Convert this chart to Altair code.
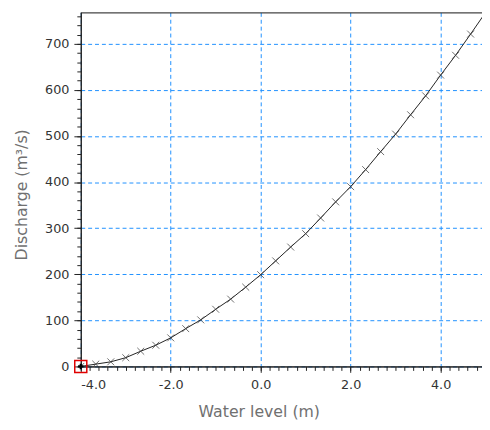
import altair as alt
import pandas as pd

# Water level (m) and discharge (m3/s)
levels = [-4.0, -3.667, -3.333, -3.0, -2.667, -2.333, -2.0, -1.667, -1.333, -1.0,
          -0.667, -0.333, 0.0, 0.333, 0.667, 1.0, 1.333, 1.667, 2.0, 2.333,
          2.667, 3.0, 3.333, 3.667, 4.0, 4.333, 4.667, 5.0]
discharge = [0, 5, 10, 19, 33, 46, 62, 82, 101, 124,
             146, 172, 199, 229, 259, 288, 322, 357, 390, 427,
             466, 504, 546, 587, 632, 675, 721, 768]

x_major = [-4.0, -2.0, 0.0, 2.0, 4.0]
y_major = [0, 100, 200, 300, 400, 500, 600, 700]
x_minor = [round(-4.0 + 0.2 * i, 1) for i in range(0, 45)]
y_minor = [20 * i for i in range(0, 39)]

X_DOMAIN = [-4.0, 4.92]
Y_DOMAIN = [0, 768]

df = pd.DataFrame({"level": levels, "q": discharge})
first = df.iloc[[0]]

FONT = "DejaVu Sans"
LABEL_COLOR = "#333333"
TITLE_COLOR = "#707070"

xs = alt.Scale(domain=X_DOMAIN, nice=False, zero=False)
ys = alt.Scale(domain=Y_DOMAIN, nice=False, zero=False)

major = alt.Chart(df).mark_point(opacity=0).encode(
    x=alt.X("level:Q", scale=xs, axis=alt.Axis(
        orient="bottom", values=x_major, format=".1f", grid=True,
        labelExpr="replace(datum.label, '\u2212', '-')",
        gridColor="#1e90ff", gridDash=[4, 3], gridWidth=1, gridOpacity=1,
        tickSize=6, tickColor="#222", domain=True, domainColor="#222",
        labelFont=FONT, labelFontSize=13, labelColor=LABEL_COLOR, labelPadding=6,
        title="Water level (m)", titleFont=FONT, titleFontSize=16,
        titleFontWeight="normal", titleColor=TITLE_COLOR,
        titleX=181, titleY=51, titleBaseline="alphabetic", titleAlign="center")),
    y=alt.Y("q:Q", scale=ys, axis=alt.Axis(
        orient="left", values=y_major, format="d", grid=True,
        gridColor="#1e90ff", gridDash=[4, 3], gridWidth=1, gridOpacity=1,
        tickSize=7, tickColor="#222", domain=True, domainColor="#222",
        labelFont=FONT, labelFontSize=13, labelColor=LABEL_COLOR, labelPadding=5,
        title="Discharge (m³/s)", titleFont=FONT, titleFontSize=16,
        titleFontWeight="normal", titleColor=TITLE_COLOR,
        titleAngle=-90, titleX=-55, titleY=185, titleBaseline="alphabetic",
        titleAlign="center")),
)

line = alt.Chart(df).mark_line(color="#222", strokeWidth=1, clip=True).encode(
    x=alt.X("level:Q", scale=xs, axis=alt.Axis(
        orient="bottom", values=x_minor, labels=False, grid=False, tickSize=4,
        tickColor="#222", domain=True, domainColor="#222", title=None)),
    y=alt.Y("q:Q", scale=ys, axis=alt.Axis(
        orient="left", values=y_minor, labels=False, grid=False, tickSize=4,
        tickColor="#222", domain=True, domainColor="#222", title=None)),
)

xmark = "M-1,-1L1,1M-1,1L1,-1"
pts = alt.Chart(df).mark_point(shape=xmark, size=49, filled=False, color="#333",
                               strokeWidth=1, clip=True).encode(
    x=alt.X("level:Q", scale=xs, axis=None),
    y=alt.Y("q:Q", scale=ys, axis=None),
)

dot = alt.Chart(first).mark_point(shape="cross", size=30, filled=True, color="#000",
                                  opacity=1).encode(
    x=alt.X("level:Q", scale=xs, axis=None),
    y=alt.Y("q:Q", scale=ys, axis=None),
)

sel = alt.Chart(first).mark_point(shape="square", size=150, filled=False,
                                  color="#e00000", strokeWidth=1.5, opacity=1).encode(
    x=alt.X("level:Q", scale=xs, axis=None),
    y=alt.Y("q:Q", scale=ys, axis=None),
)

top = alt.Chart(alt.Data(values=[{}])).mark_rule(color="#222", strokeWidth=1).encode(
    x=alt.value(0), x2=alt.value(408), y=alt.value(0.5)
)

chart = alt.layer(major, line, pts, dot, sel, top).resolve_axis(
    x="independent", y="independent"
).properties(
    width=408, height=360,
    autosize=alt.AutoSizeParams(type="none"),
    padding={"left": 74, "top": 1, "right": 0, "bottom": 52},
).configure_view(stroke=None).configure(background="white")

chart.save("out.html", embed_options={"renderer": "svg", "actions": False})
